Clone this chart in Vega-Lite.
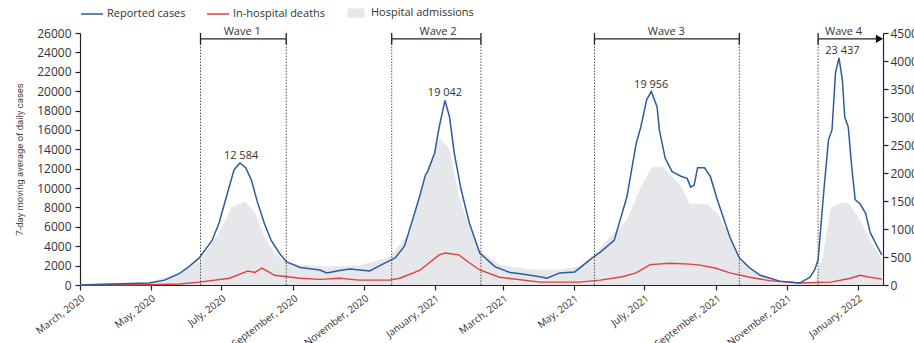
{
  "$schema": "https://vega.github.io/schema/vega-lite/v6.json",
  "width": 803,
  "height": 252,
  "autosize": {"type": "none"},
  "padding": {"left": 80, "top": 33, "right": 31, "bottom": 58},
  "background": "white",
  "config": {
    "font": "Open Sans",
    "view": {"stroke": null},
    "axis": {"domainColor": "#222", "tickColor": "#222", "labelColor": "#333", "domainWidth": 1.2, "tickWidth": 1.2, "grid": false, "tickSize": 5}
  },
  "datasets": {
    "cases": [
      {"date": "2020-03-01", "value": 0}, {"date": "2020-03-14", "value": 50}, {"date": "2020-03-27", "value": 100},
      {"date": "2020-04-13", "value": 150}, {"date": "2020-04-30", "value": 200}, {"date": "2020-05-13", "value": 500},
      {"date": "2020-05-26", "value": 1200}, {"date": "2020-06-03", "value": 1900}, {"date": "2020-06-12", "value": 2800},
      {"date": "2020-06-23", "value": 4600}, {"date": "2020-06-29", "value": 6400}, {"date": "2020-07-07", "value": 9800},
      {"date": "2020-07-12", "value": 11900}, {"date": "2020-07-17", "value": 12584}, {"date": "2020-07-22", "value": 12100},
      {"date": "2020-07-27", "value": 10800}, {"date": "2020-08-01", "value": 8600}, {"date": "2020-08-07", "value": 6400},
      {"date": "2020-08-13", "value": 4600}, {"date": "2020-08-20", "value": 3300}, {"date": "2020-08-26", "value": 2400},
      {"date": "2020-09-07", "value": 1800}, {"date": "2020-09-24", "value": 1550}, {"date": "2020-09-30", "value": 1250},
      {"date": "2020-10-11", "value": 1500}, {"date": "2020-10-20", "value": 1650}, {"date": "2020-11-06", "value": 1450},
      {"date": "2020-11-19", "value": 2250}, {"date": "2020-11-28", "value": 2800}, {"date": "2020-12-06", "value": 4000},
      {"date": "2020-12-13", "value": 6700}, {"date": "2020-12-19", "value": 9100}, {"date": "2020-12-24", "value": 11300},
      {"date": "2020-12-26", "value": 11700}, {"date": "2021-01-01", "value": 13600}, {"date": "2021-01-05", "value": 16300},
      {"date": "2021-01-10", "value": 19042}, {"date": "2021-01-14", "value": 17300}, {"date": "2021-01-18", "value": 13600},
      {"date": "2021-01-24", "value": 9800}, {"date": "2021-01-31", "value": 6400}, {"date": "2021-02-09", "value": 3300},
      {"date": "2021-02-22", "value": 1900}, {"date": "2021-03-07", "value": 1300}, {"date": "2021-03-16", "value": 1150},
      {"date": "2021-04-02", "value": 850}, {"date": "2021-04-08", "value": 700}, {"date": "2021-04-19", "value": 1250},
      {"date": "2021-05-02", "value": 1350}, {"date": "2021-05-15", "value": 2600}, {"date": "2021-05-24", "value": 3400},
      {"date": "2021-06-05", "value": 4600}, {"date": "2021-06-16", "value": 9100}, {"date": "2021-06-24", "value": 14600},
      {"date": "2021-06-28", "value": 16300}, {"date": "2021-07-03", "value": 19100}, {"date": "2021-07-07", "value": 19956},
      {"date": "2021-07-12", "value": 18400}, {"date": "2021-07-14", "value": 16000}, {"date": "2021-07-19", "value": 13100},
      {"date": "2021-07-25", "value": 11700}, {"date": "2021-08-02", "value": 11200}, {"date": "2021-08-07", "value": 11000},
      {"date": "2021-08-10", "value": 10100}, {"date": "2021-08-13", "value": 10300}, {"date": "2021-08-16", "value": 12100},
      {"date": "2021-08-22", "value": 12100}, {"date": "2021-08-27", "value": 11200}, {"date": "2021-09-02", "value": 8800},
      {"date": "2021-09-13", "value": 4900}, {"date": "2021-09-21", "value": 2800}, {"date": "2021-09-30", "value": 1750},
      {"date": "2021-10-09", "value": 1000}, {"date": "2021-10-26", "value": 400}, {"date": "2021-11-12", "value": 200},
      {"date": "2021-11-21", "value": 800}, {"date": "2021-11-25", "value": 1550}, {"date": "2021-11-28", "value": 2600},
      {"date": "2021-12-03", "value": 9800}, {"date": "2021-12-07", "value": 15000}, {"date": "2021-12-10", "value": 16000},
      {"date": "2021-12-13", "value": 21900}, {"date": "2021-12-16", "value": 23437}, {"date": "2021-12-19", "value": 21100},
      {"date": "2021-12-21", "value": 17300}, {"date": "2021-12-24", "value": 16300}, {"date": "2021-12-27", "value": 12200},
      {"date": "2021-12-30", "value": 8800}, {"date": "2022-01-03", "value": 8400}, {"date": "2022-01-08", "value": 7400},
      {"date": "2022-01-12", "value": 5400}, {"date": "2022-01-18", "value": 4000}, {"date": "2022-01-22", "value": 3100}
    ],
    "admissions": [
      {"date": "2020-03-01", "value": 0}, {"date": "2020-03-27", "value": 17}, {"date": "2020-04-30", "value": 52},
      {"date": "2020-05-26", "value": 208}, {"date": "2020-06-12", "value": 415}, {"date": "2020-06-29", "value": 935},
      {"date": "2020-07-10", "value": 1385}, {"date": "2020-07-21", "value": 1489}, {"date": "2020-07-30", "value": 1298},
      {"date": "2020-08-07", "value": 866}, {"date": "2020-08-16", "value": 571}, {"date": "2020-08-26", "value": 398},
      {"date": "2020-09-07", "value": 363}, {"date": "2020-10-03", "value": 329}, {"date": "2020-10-28", "value": 346},
      {"date": "2020-11-23", "value": 502}, {"date": "2020-12-11", "value": 952}, {"date": "2020-12-24", "value": 1904},
      {"date": "2021-01-05", "value": 2631}, {"date": "2021-01-14", "value": 2423}, {"date": "2021-01-22", "value": 1575},
      {"date": "2021-01-31", "value": 1039}, {"date": "2021-02-09", "value": 623}, {"date": "2021-02-26", "value": 363},
      {"date": "2021-03-25", "value": 277}, {"date": "2021-04-19", "value": 277}, {"date": "2021-05-06", "value": 330},
      {"date": "2021-05-15", "value": 485}, {"date": "2021-06-05", "value": 935}, {"date": "2021-06-16", "value": 1160},
      {"date": "2021-06-28", "value": 1748}, {"date": "2021-07-08", "value": 2112}, {"date": "2021-07-17", "value": 2112},
      {"date": "2021-08-01", "value": 1783}, {"date": "2021-08-09", "value": 1454}, {"date": "2021-08-24", "value": 1437},
      {"date": "2021-09-02", "value": 1281}, {"date": "2021-09-13", "value": 866}, {"date": "2021-09-21", "value": 450},
      {"date": "2021-10-09", "value": 208}, {"date": "2021-10-26", "value": 69}, {"date": "2021-11-12", "value": 43},
      {"date": "2021-11-25", "value": 69}, {"date": "2021-12-02", "value": 519}, {"date": "2021-12-09", "value": 1385},
      {"date": "2021-12-16", "value": 1454}, {"date": "2021-12-24", "value": 1471}, {"date": "2022-01-03", "value": 1160},
      {"date": "2022-01-12", "value": 796}, {"date": "2022-01-22", "value": 450}
    ],
    "deaths": [
      {"date": "2020-03-01", "value": 0}, {"date": "2020-04-30", "value": 5}, {"date": "2020-05-26", "value": 17},
      {"date": "2020-06-12", "value": 52}, {"date": "2020-07-08", "value": 121}, {"date": "2020-07-24", "value": 251},
      {"date": "2020-07-30", "value": 225}, {"date": "2020-08-05", "value": 303}, {"date": "2020-08-16", "value": 173},
      {"date": "2020-09-07", "value": 121}, {"date": "2020-09-24", "value": 100}, {"date": "2020-10-11", "value": 121},
      {"date": "2020-10-28", "value": 87}, {"date": "2020-11-23", "value": 87}, {"date": "2020-12-02", "value": 121},
      {"date": "2020-12-19", "value": 260}, {"date": "2021-01-05", "value": 537}, {"date": "2021-01-10", "value": 571},
      {"date": "2021-01-22", "value": 537}, {"date": "2021-01-31", "value": 398}, {"date": "2021-02-09", "value": 268},
      {"date": "2021-02-26", "value": 138}, {"date": "2021-04-02", "value": 52}, {"date": "2021-05-06", "value": 52},
      {"date": "2021-05-24", "value": 87}, {"date": "2021-06-12", "value": 147}, {"date": "2021-06-24", "value": 216},
      {"date": "2021-07-06", "value": 363}, {"date": "2021-07-23", "value": 389}, {"date": "2021-08-09", "value": 372},
      {"date": "2021-08-18", "value": 355}, {"date": "2021-08-31", "value": 303}, {"date": "2021-09-13", "value": 216},
      {"date": "2021-09-30", "value": 138}, {"date": "2021-10-17", "value": 78}, {"date": "2021-11-12", "value": 35},
      {"date": "2021-12-09", "value": 52}, {"date": "2021-12-26", "value": 121}, {"date": "2022-01-03", "value": 173},
      {"date": "2022-01-12", "value": 138}, {"date": "2022-01-22", "value": 104}
    ],
    "boundaries": [
      {"date": "2020-06-13"}, {"date": "2020-08-26"}, {"date": "2020-11-25"}, {"date": "2021-02-10"},
      {"date": "2021-05-19"}, {"date": "2021-09-21"}, {"date": "2021-11-28"}
    ],
    "waves": [
      {"date": "2020-06-13", "end": "2020-08-26"},
      {"date": "2020-11-25", "end": "2021-02-10"},
      {"date": "2021-05-19", "end": "2021-09-21"},
      {"date": "2021-11-28", "end": "2022-01-20"}
    ],
    "waveLabels": [
      {"date": "2020-07-19", "label": "Wave 1"},
      {"date": "2021-01-04", "label": "Wave 2"},
      {"date": "2021-07-20", "label": "Wave 3"},
      {"date": "2021-12-20", "label": "Wave 4"}
    ],
    "arrowhead": [{"date": "2022-01-20"}],
    "peaks": [
      {"date": "2020-07-18", "value": 12584, "label": "12 584"},
      {"date": "2021-01-10", "value": 19042, "label": "19 042"},
      {"date": "2021-07-07", "value": 19956, "label": "19 956"},
      {"date": "2021-12-19", "value": 23437, "label": "23 437"}
    ]
  },
  "encoding": {
    "x": {"field": "date", "type": "temporal",
      "scale": {"type": "utc", "domain": [{"year": 2020, "month": 3, "date": 1, "utc": true}, {"year": 2022, "month": 1, "date": 23, "utc": true}]},
      "axis": {"title": null, "labelExpr": "utcFormat(datum.value, '%B, %Y')", "labelAngle": -37, "labelFontSize": 10, "labelPadding": 3,
        "tickCount": {"interval": "month", "step": 2}}}
  },
  "layer": [
    {
      "encoding": {
        "y": {"field": "value", "type": "quantitative", "scale": {"domain": [0, 4500], "nice": false},
          "axis": {"orient": "right", "title": null, "format": "d", "labelFontSize": 12, "labelPadding": 2, "tickCount": 9}}
      },
      "layer": [
        {
          "data": {"name": "admissions"},
          "mark": {"type": "area", "interpolate": "linear"},
          "encoding": {
            "color": {"datum": "Hospital admissions", "type": "nominal",
              "scale": {"domain": ["Reported cases", "In-hospital deaths", "Hospital admissions"], "range": ["#2c5c9f", "#e0403f", "#e5e7ea"]},
              "legend": {
                "orient": "none", "legendX": 0, "legendY": -32, "direction": "horizontal", "title": null,
                "labelFontSize": 11, "labelColor": "#333", "labelOffset": 3, "columnPadding": 18,
                "symbolSize": 484, "symbolType": "stroke", "symbolStrokeWidth": 1.5,
                "encode": {
                  "symbols": {"update": {
                    "shape": {"signal": "datum.value === 'Hospital admissions' ? 'M-1,-0.5H1V0.5H-1Z' : 'stroke'"},
                    "size": {"signal": "datum.value === 'Hospital admissions' ? 240 : 484"},
                    "fill": {"signal": "datum.value === 'Hospital admissions' ? '#e5e7ea' : 'transparent'"},
                    "stroke": {"signal": "datum.value === 'Hospital admissions' ? '#333333' : (datum.value === 'Reported cases' ? '#2c5c9f' : '#e0403f')"},
                    "strokeWidth": {"value": 1.5},
                    "strokeOpacity": {"value": 1},
                    "opacity": {"value": 1}
                  }}
                }
              }}
          }
        },
        {
          "data": {"name": "deaths"},
          "mark": {"type": "line", "strokeWidth": 1.4},
          "encoding": {
            "color": {"datum": "In-hospital deaths", "type": "nominal"}
          }
        }
      ]
    },
    {
      "layer": [
        {
          "data": {"name": "cases"},
          "mark": {"type": "line", "strokeWidth": 1.5},
          "encoding": {
            "y": {"field": "value", "type": "quantitative", "scale": {"domain": [0, 26000], "nice": false},
              "axis": {"orient": "left", "title": "7-day moving average of daily cases", "titleFont": "Roboto", "titleFontSize": 9.5, "titleFontWeight": "normal", "titleColor": "#444", "titlePadding": 12,
                "format": "d", "labelFontSize": 12, "labelPadding": 4, "tickCount": 13}},
            "color": {"datum": "Reported cases", "type": "nominal"}
          }
        },
        {
          "data": {"name": "peaks"},
          "mark": {"type": "text", "fontSize": 11, "color": "#333", "baseline": "bottom", "align": "center", "dy": -2},
          "encoding": {
            "y": {"field": "value", "type": "quantitative"},
            "text": {"field": "label"}
          }
        },
        {
          "data": {"name": "boundaries"},
          "mark": {"type": "rule", "strokeDash": [1.5, 1.5], "color": "#555", "strokeWidth": 1},
          "encoding": {
            "y": {"datum": 0, "type": "quantitative"},
            "y2": {"datum": 25400}
          }
        },
        {
          "data": {"name": "boundaries"},
          "mark": {"type": "rule", "color": "#222", "strokeWidth": 1.3},
          "encoding": {
            "y": {"datum": 24800, "type": "quantitative"},
            "y2": {"datum": 26000}
          }
        },
        {
          "data": {"name": "waves"},
          "mark": {"type": "rule", "color": "#222", "strokeWidth": 1.3},
          "encoding": {
            "x2": {"field": "end"},
            "y": {"datum": 25400, "type": "quantitative"}
          }
        },
        {
          "data": {"name": "arrowhead"},
          "mark": {"type": "point", "shape": "triangle-right", "filled": true, "size": 70, "color": "#111", "opacity": 1},
          "encoding": {
            "y": {"datum": 25400, "type": "quantitative"}
          }
        },
        {
          "data": {"name": "waveLabels"},
          "mark": {"type": "text", "fontSize": 11, "color": "#333", "baseline": "middle", "align": "center"},
          "encoding": {
            "y": {"datum": 26150, "type": "quantitative"},
            "text": {"field": "label"}
          }
        }
      ]
    }
  ],
  "resolve": {"scale": {"y": "independent"}}
}
